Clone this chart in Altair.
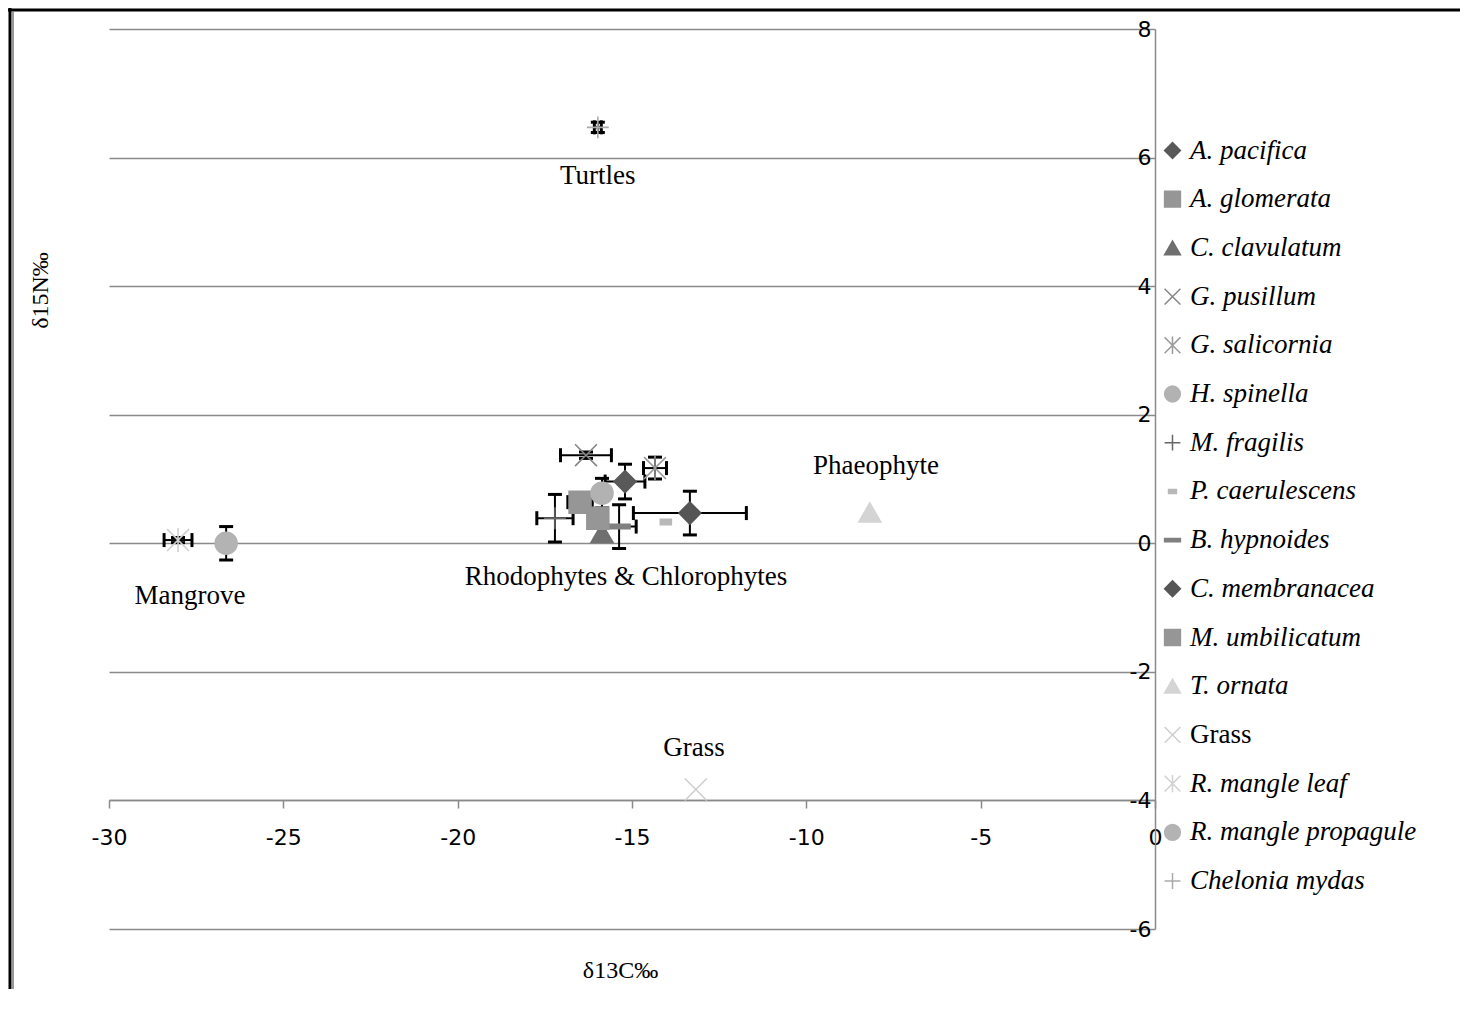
import altair as alt
import pandas as pd

# ---------------- data ----------------
species = ["A. pacifica", "A. glomerata", "C. clavulatum", "G. pusillum",
           "G. salicornia", "H. spinella", "M. fragilis", "P. caerulescens",
           "B. hypnoides", "C. membranacea", "M. umbilicatum", "T. ornata",
           "Grass", "R. mangle leaf", "R. mangle propagule", "Chelonia mydas"]
d13c = [-15.2, -16.49, -15.86, -16.32, -14.34, -15.86, -17.21, -14.03,
        -15.37, -13.34, -15.98, -8.18, -13.17, -28.02, -26.64, -15.98]
d15n = [0.96, 0.64, 0.16, 1.37, 1.17, 0.78, 0.39, 0.33,
        0.26, 0.47, 0.39, 0.48, -3.83, 0.05, 0.0, 6.47]
c_err = [0.57, 0.35, 0.0, 0.73, 0.33, 0.1, 0.52, 0.0,
         0.49, 1.62, 0.15, 0.0, 0.0, 0.4, 0.0, 0.1]
n_err = [0.27, 0.15, 0.0, 0.05, 0.17, 0.23, 0.37, 0.0,
         0.34, 0.34, 0.15, 0.0, 0.0, 0.04, 0.26, 0.08]

X_PATH = "M-1,-1L1,1M-1,1L1,-1"
AST_PATH = "M-1,-1L1,1M-1,1L1,-1M0,-1.1L0,1.1"
PLUS_PATH = "M-1,0L1,0M0,-1L0,1"
SHORT_DASH = "M-0.5,-0.25L0.5,-0.25L0.5,0.25L-0.5,0.25Z"
LONG_DASH = "M-1,-0.2L1,-0.2L1,0.2L-1,0.2Z"
shapes = ["diamond", "square", "triangle-up", X_PATH, AST_PATH, "circle",
          PLUS_PATH, SHORT_DASH, LONG_DASH, "diamond", "square", "triangle-up",
          X_PATH, AST_PATH, "circle", PLUS_PATH]
colors = ["#595959", "#969696", "#6f6f6f", "#858585", "#9a9a9a", "#b2b2b2",
          "#666666", "#b8b8b8", "#808080", "#555555", "#969696", "#d4d4d4",
          "#cfcfcf", "#d0d0d0", "#b3b3b3", "#aaaaaa"]

ann_text = ["Turtles", "Mangrove", "Rhodophytes & Chlorophytes", "Phaeophyte", "Grass"]
ann_x = [-15.98, -27.68, -15.17, -8.0, -13.22]
ann_y = [5.72, -0.82, -0.53, 1.21, -3.19]

x_ticks = [-30, -25, -20, -15, -10, -5, 0]
y_ticks = [-6, -4, -2, 0, 2, 4, 6, 8]

# ---------------- tables ----------------
pts = pd.DataFrame({"species": species, "c": d13c, "n": d15n,
                    "ce": c_err, "ne": n_err})
pts["c_lo"] = pts["c"] - pts["ce"]
pts["c_hi"] = pts["c"] + pts["ce"]
pts["n_lo"] = pts["n"] - pts["ne"]
pts["n_hi"] = pts["n"] + pts["ne"]
xe = pts[pts["ce"] > 0]
ye = pts[pts["ne"] > 0]
xcaps = pd.concat([pd.DataFrame({"c": xe["c_lo"], "n": xe["n"]}),
                   pd.DataFrame({"c": xe["c_hi"], "n": xe["n"]})])
ycaps = pd.concat([pd.DataFrame({"c": ye["c"], "n": ye["n_lo"]}),
                   pd.DataFrame({"c": ye["c"], "n": ye["n_hi"]})])
ann = pd.DataFrame({"t": ann_text, "c": ann_x, "n": ann_y})

W, H = 1046, 900
GRID = "#8a8a8a"

xscale = alt.Scale(domain=[-30, 0], nice=False, zero=False)
yscale = alt.Scale(domain=[-6, 8], nice=False, zero=False)

x_axis = alt.Axis(values=x_ticks, offset=-129, grid=False, labelFlush=False,
                  labelOverlap=False, labelFont="DejaVu Sans", labelFontSize=22,
                  labelColor="#000", tickSize=8, tickColor=GRID, domainColor=GRID,
                  domainWidth=1.5, tickWidth=1.5, labelPadding=19,
                  title="δ13C‰", titleFont="Liberation Serif", titleFontSize=24,
                  titleFontWeight="normal", titleColor="#000", titleX=511,
                  titleY=170, titleAlign="center", titleBaseline="middle",
                  labelExpr="datum.value")
y_axis = alt.Axis(values=y_ticks, orient="right", grid=True, gridColor=GRID,
                  gridWidth=1.5, gridOpacity=1, ticks=False, tickSize=0,
                  labelFlush=False, labelOverlap=False, labelAlign="right",
                  labelPadding=-4, labelFont="DejaVu Sans", labelFontSize=22,
                  labelColor="#000", domainColor=GRID, domainWidth=1.5,
                  labelExpr="datum.value",
                  title="δ15N‰", titleFont="Liberation Serif", titleFontSize=24,
                  titleFontWeight="normal", titleColor="#000", titleAngle=270,
                  titleX=-1115, titleY=261, titleAlign="center",
                  titleBaseline="middle")

legend = alt.Legend(title=None, orient="none", legendX=1050, legendY=108,
                    padding=0, rowPadding=20.7,
                    labelFontStyle=alt.ExprRef("datum.label == 'Grass' ? 'normal' : 'italic'"))

base_x = alt.X("c:Q", scale=xscale, axis=x_axis)
base_y = alt.Y("n:Q", scale=yscale, axis=y_axis)

xerr_rule = alt.Chart(xe).mark_rule(color="#000", strokeWidth=2).encode(
    x=alt.X("c_lo:Q", scale=xscale, axis=x_axis), x2="c_hi:Q", y=base_y)
yerr_rule = alt.Chart(ye).mark_rule(color="#000", strokeWidth=2).encode(
    x=base_x, y=alt.Y("n_lo:Q", scale=yscale, axis=y_axis), y2="n_hi:Q")
xcap = alt.Chart(xcaps).mark_tick(color="#000", orient="vertical", size=14,
                                  thickness=3, opacity=1).encode(x=base_x, y=base_y)
ycap = alt.Chart(ycaps).mark_tick(color="#000", orient="horizontal", size=14,
                                  thickness=3, opacity=1).encode(x=base_x, y=base_y)

sp_scale_fill = alt.Scale(domain=species, range=colors)
sp_scale_shape = alt.Scale(domain=species, range=shapes)

points = alt.Chart(pts).mark_point(filled=True, size=480, opacity=1,
                                   strokeWidth=1.6).encode(
    x=base_x, y=base_y,
    fill=alt.Fill("species:N", scale=sp_scale_fill, legend=legend, sort=species),
    stroke=alt.Stroke("species:N", scale=sp_scale_fill, legend=legend, sort=species),
    shape=alt.Shape("species:N", scale=sp_scale_shape, legend=legend, sort=species),
)

labels = alt.Chart(ann).mark_text(font="Liberation Serif", fontSize=27,
                                  color="#000", align="center",
                                  baseline="middle").encode(
    x=base_x, y=base_y, text="t:N")

frame_data = alt.Data(values=[{"k": 1}])
frame_v = alt.Chart(frame_data).mark_rule(color="#000", strokeWidth=3).encode(
    x=alt.value(-99), y=alt.value(-21), y2=alt.value(990))
frame_h = alt.Chart(frame_data).mark_rule(color="#000", strokeWidth=3).encode(
    x=alt.value(-101), x2=alt.value(1360), y=alt.value(-19))
frame_g = alt.Chart(frame_data).mark_rule(color="#999", strokeWidth=2).encode(
    x=alt.value(-96), y=alt.value(-17), y2=alt.value(990))

chart = alt.layer(frame_v, frame_h, frame_g, xerr_rule, yerr_rule, xcap, ycap,
                  points, labels).properties(
    width=W, height=H,
    background="white",
    autosize=alt.AutoSizeParams(type="none"),
    padding={"left": 101, "top": 21, "right": 305, "bottom": 60},
).configure_view(
    stroke=None
).configure_legend(
    labelFont="Liberation Serif", labelFontSize=27, labelColor="#000",
    labelOffset=4, symbolSize=250, symbolStrokeWidth=1.5, labelLimit=400,
)

chart.save("out.html", embed_options={"renderer": "svg", "actions": False})
